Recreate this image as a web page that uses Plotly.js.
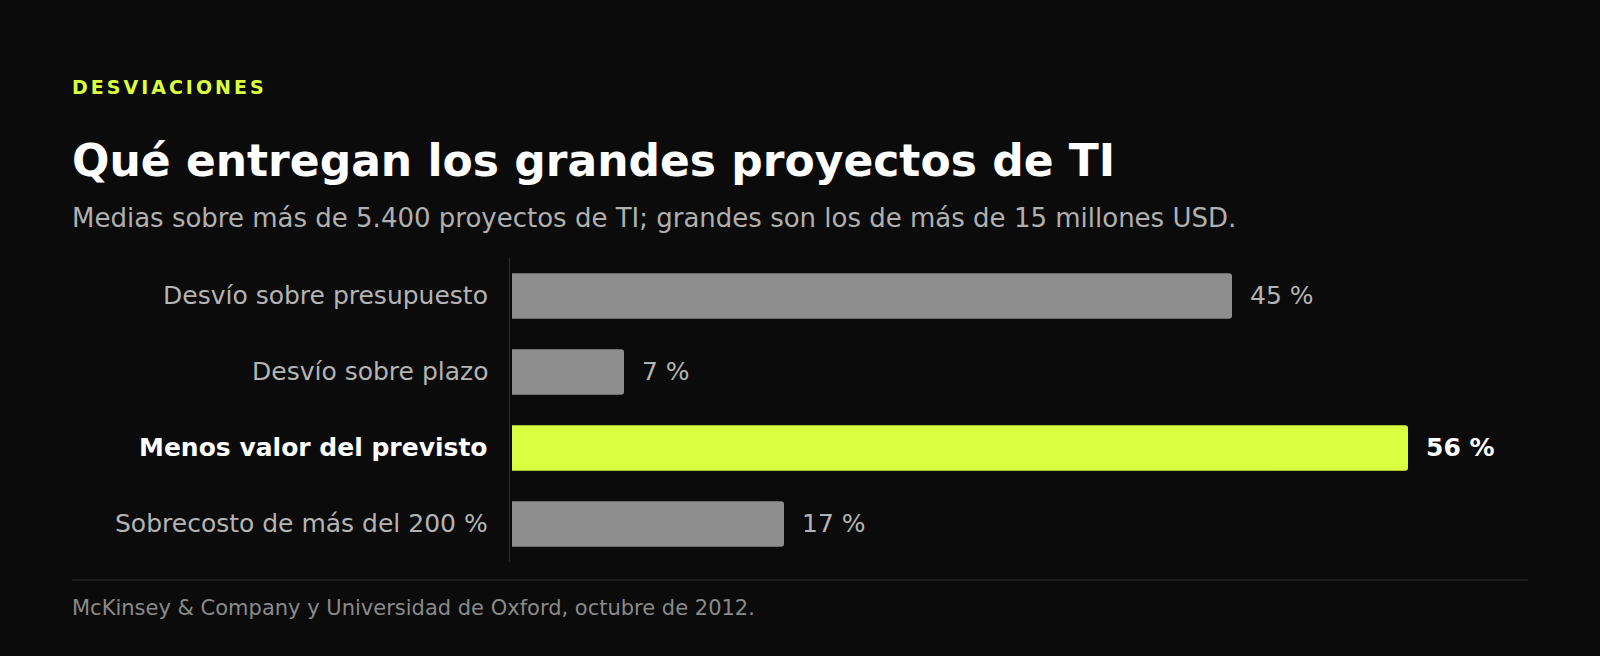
<!DOCTYPE html>
<html>
<head>
<meta charset="utf-8">
<script src="https://cdn.plot.ly/plotly-3.0.1.min.js"></script>
<style>
  html, body { margin: 0; padding: 0; background: #0b0b0b; }
  #chart { width: 1600px; height: 656px; }
</style>
</head>
<body>
<div id="chart"></div>
<script>
// ---- data ----
const categories = [
  "Desvío sobre presupuesto",
  "Desvío sobre plazo",
  "Menos valor del previsto",
  "Sobrecosto de más del 200 %"
];
const values = [45, 7, 56, 17];
const valueLabels = ["45 %", "7 %", "56 %", "17 %"];
const highlightCategory = "Menos valor del previsto";

const kicker = "DESVIACIONES";
const titleText = "Qué entregan los grandes proyectos de TI";
const subtitleText = "Medias sobre más de 5.400 proyectos de TI; grandes son los de más de 15 millones USD.";
const sourceText = "McKinsey & Company y Universidad de Oxford, octubre de 2012.";

// ---- layout helpers (pixel -> paper) ----
const W = 1600, H = 656;
const M = { l: 510, r: 72, t: 258, b: 94 };
const plotW = W - M.l - M.r, plotH = H - M.t - M.b;
const px = x => (x - M.l) / plotW;
const py = y => (H - M.b - y) / plotH;
const FONT = "DejaVu Sans";
const KICKER_LS = 3;

const GRAY_BAR = "#8e8e8e";
const HILITE = "#d9ff40";

const colors = categories.map(c => c === highlightCategory ? HILITE : GRAY_BAR);

const trace = {
  type: "bar",
  orientation: "h",
  y: categories,
  x: values,
  marker: { color: colors, cornerradius: 3 },
  hoverinfo: "skip",
  width: 0.6
};

const annotations = [];
// category labels
categories.forEach(c => {
  const hl = c === highlightCategory;
  annotations.push({
    xref: "paper", yref: "y", x: 0, y: c,
    xanchor: "right", yanchor: "middle", xshift: -20, yshift: 1,
    text: c, showarrow: false,
    font: { family: FONT, size: 25, color: hl ? "#ffffff" : "#b4b4b4", weight: hl ? "bold" : "normal" }
  });
});
// value labels
categories.forEach((c, i) => {
  const hl = c === highlightCategory;
  annotations.push({
    xref: "x", yref: "y", x: values[i], y: c,
    xanchor: "left", yanchor: "middle", xshift: 16, yshift: 1,
    text: valueLabels[i], showarrow: false,
    font: { family: FONT, size: 25, color: hl ? "#ffffff" : "#b4b4b4", weight: hl ? "bold" : "normal" }
  });
});
// header / footer text
annotations.push({
  xref: "paper", yref: "paper", x: px(70), y: py(87), xanchor: "left", yanchor: "middle",
  xshift: kicker.length * KICKER_LS / 2,
  text: kicker, showarrow: false,
  font: { family: FONT, size: 19, color: HILITE, weight: "bold" }
});
annotations.push({
  xref: "paper", yref: "paper", x: px(70), y: py(160), xanchor: "left", yanchor: "middle",
  text: titleText, showarrow: false,
  font: { family: FONT, size: 44, color: "#ffffff", weight: "bold" }
});
annotations.push({
  xref: "paper", yref: "paper", x: px(70), y: py(218), xanchor: "left", yanchor: "middle",
  text: subtitleText, showarrow: false,
  font: { family: FONT, size: 26, color: "#b0b0b0" }
});
annotations.push({
  xref: "paper", yref: "paper", x: px(70), y: py(608), xanchor: "left", yanchor: "middle",
  text: sourceText, showarrow: false,
  font: { family: FONT, size: 21, color: "#8a8a8a" }
});

const layout = {
  width: W, height: H,
  margin: M,
  paper_bgcolor: "#0b0b0b",
  plot_bgcolor: "#0b0b0b",
  showlegend: false,
  font: { family: FONT, color: "#b4b4b4" },
  xaxis: {
    range: [-0.125, -0.125 + plotW / 16],
    showgrid: false, zeroline: false, showline: false, showticklabels: false, ticks: "",
    fixedrange: true
  },
  yaxis: {
    autorange: "reversed",
    showgrid: false, zeroline: false, showticklabels: false, ticks: "",
    showline: true, linecolor: "#2c2c2c", linewidth: 1, layer: "below traces",
    fixedrange: true
  },
  shapes: [{
    type: "line", xref: "paper", yref: "paper",
    x0: px(72), x1: px(1528), y0: py(580), y1: py(580),
    line: { color: "#2a2a2a", width: 1 }
  }],
  annotations: annotations
};

Plotly.newPlot("chart", [trace], layout, { displayModeBar: false, staticPlot: true }).then(gd => {
  gd.querySelectorAll(".annotation-text").forEach(t => {
    if (t.textContent === kicker) t.style.letterSpacing = KICKER_LS + "px";
  });
});
</script>
</body>
</html>
